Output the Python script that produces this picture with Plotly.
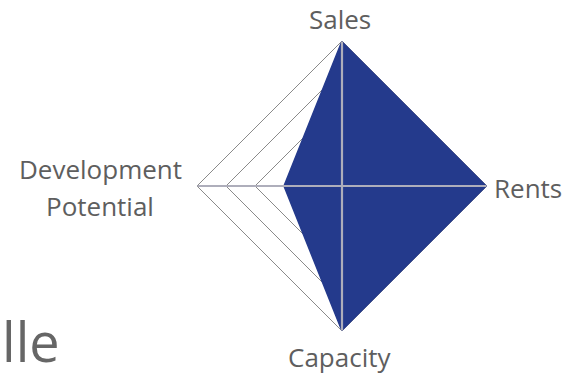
import plotly.graph_objects as go

categories = ["Sales", "Rents", "Capacity", "Development Potential"]
values = [5, 5, 5, 2]
r_max = 5
grid_levels = [1, 2, 3, 4, 5]

fig = go.Figure()

# filled area
fig.add_trace(go.Scatterpolar(
    r=values + values[:1],
    theta=categories + categories[:1],
    mode="lines",
    fill="toself",
    fillcolor="#243a8c",
    line=dict(color="#243a8c", width=1.5),
    hoverinfo="skip",
    showlegend=False,
))

# spokes drawn over the fill
for c in categories:
    fig.add_trace(go.Scatterpolar(
        r=[0, r_max], theta=[c, c], mode="lines",
        line=dict(color="#aeaebb", width=2.2),
        hoverinfo="skip", showlegend=False,
    ))

fig.update_layout(
    width=569, height=380,
    margin=dict(l=0, r=0, t=0, b=0),
    paper_bgcolor="white",
    plot_bgcolor="white",
    showlegend=False,
    polar=dict(
        domain=dict(x=[197 / 569, 487 / 569], y=[49 / 380, 339 / 380]),
        bgcolor="rgba(0,0,0,0)",
        gridshape="linear",
        radialaxis=dict(
            range=[0, r_max], tickvals=grid_levels, showticklabels=False,
            ticks="", showline=False, gridcolor="#8a8a8a", gridwidth=1,
        ),
        angularaxis=dict(
            rotation=90, direction="clockwise",
            showticklabels=False, ticks="",
            showline=True, linecolor="#8a8a8a", linewidth=1,
            gridcolor="#aeaebb", gridwidth=2,
            layer="below traces",
        ),
    ),
    font=dict(family="Open Sans", color="#5a5a5a"),
)

font_lbl = dict(family="Open Sans", size=26, color="#5e5e5e")
labels = [
    ("Sales", 340, 19, "center"),
    ("Rents", 492, 188, "left"),
    ("Capacity", 339, 357, "center"),
    ("Development", 100, 169, "center"),
    ("Potential", 100, 206, "center"),
]
for txt, px, py, anc in labels:
    fig.add_annotation(text=txt, x=px / 569, y=(380 - py) / 380, xref="paper", yref="paper",
                       showarrow=False, font=font_lbl, xanchor=anc, yanchor="middle")

fig.add_annotation(text="lle", x=0, y=0, xref="paper", yref="paper", showarrow=False,
                   font=dict(family="Open Sans", size=54, color="#666666"),
                   xanchor="left", yanchor="bottom", yshift=0)

fig.write_html("out.html", config={"displayModeBar": False},
               post_script="document.body.style.margin='0';")
